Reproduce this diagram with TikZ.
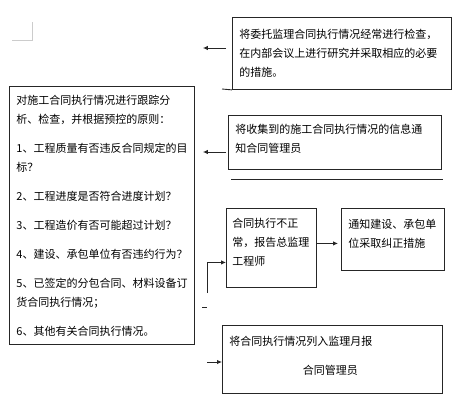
\documentclass[tikz,border=0pt]{standalone}
\usepackage{fontspec}
\setmainfont{Noto Sans CJK SC}
\usetikzlibrary{arrows.meta}

\tikzset{
  box/.style={draw=black!85, line width=0.9pt, anchor=north west, align=left,
    inner xsep=7pt, inner ysep=0pt, font=\fontsize{11pt}{19pt}\selectfont},
  arr/.style={draw=black!85, line width=0.9pt, -{Latex[length=5pt,width=4.5pt]}},
  rule/.style={draw=black!85, line width=0.9pt},
}
\newcommand{\padbot}[1]{\rule[-#1]{0pt}{#1}}

\begin{document}
\begin{tikzpicture}[x=1pt,y=-1pt]
	\useasboundingbox (0,0) rectangle (457,404);

	% page corner mark
	\draw [black!20, line width=0.8pt] (12,40) -- (32,40) -- (32,22);

	% Text Node
	\node [box, text width=205pt, minimum height=72pt] (check) at (232,17)
	  {将委托监理合同执行情况经常进行检查，\\在内部会议上进行研究并采取相应的必要\\的措施。};
	\draw [rule] (222,89) -- (check.south west);
	% Text Node
	\node [box, text width=171pt, minimum height=258pt] (track) at (9,86)
	  {对施工合同执行情况进行跟踪分\\析、检查，并根据预控的原则：\\[10pt]
	   1、工程质量有否违反合同规定的目\\标？\\[10pt]
	   2、工程进度是否符合进度计划？\\[10pt]
	   3、工程造价有否可能超过计划？\\[10pt]
	   4、建设、承包单位有否违约行为？\\[10pt]
	   5、已签定的分包合同、材料设备订\\货合同执行情况；\\[10pt]
	   6、其他有关合同执行情况。};
	% Text Node
	\node [box, text width=199pt, minimum height=54pt] (notify) at (228,115)
	  {将收集到的施工合同执行情况的信息通\\知合同管理员\padbot{8pt}};
	\draw [rule] (231,179) -- (443,179);
	% Text Node
	\node [box, text width=78pt, inner xsep=6pt, minimum height=79pt] (report) at (226,208)
	  {合同执行不正\\常，报告总监理\\工程师\padbot{12pt}};
	% Text Node
	\node [box, text width=89pt, minimum height=62pt] (correct) at (341,208)
	  {通知建设、承包单\\位采取纠正措施\padbot{13pt}};
	% Text Node
	\node [box, text width=206pt, minimum height=68pt] (monthly) at (222,325)
	  {将合同执行情况列入监理月报\\[10pt]\hspace*{73.5pt}合同管理员\padbot{8pt}};

	% Connection
	\coordinate (a1) at (226,48);
	\draw [arr, shorten >=8pt] (a1) -- (a1 -| track.east);
	% Connection
	\coordinate (a2) at (226,152);
	\draw [arr, shorten >=8pt] (a2) -- (a2 -| track.east);
	% Connection
	\coordinate (e1) at (207,293);
	\draw [arr] (e1) |- ([yshift=-14.5pt]report.west);
	% Connection
	\draw [arr, shorten >=3pt] ([yshift=4.5pt]report.east) -- ([yshift=4.5pt]report.east -| correct.west);
	\draw [rule] (202,307) -- (207,307);
	% Connection
	\coordinate (e2) at (207,362);
	\draw [arr] (e2) -- (e2 -| monthly.west);

\end{tikzpicture}
\end{document}
